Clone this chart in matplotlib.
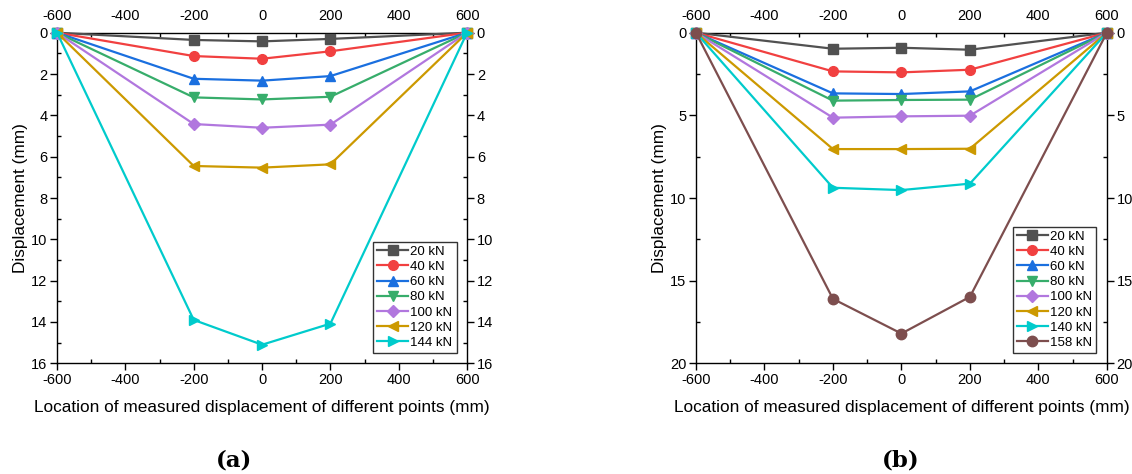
import matplotlib
matplotlib.use("Agg")
import matplotlib.pyplot as plt
from matplotlib.ticker import MultipleLocator

plt.rcParams["font.family"] = ["Liberation Sans", "DejaVu Sans"]
plt.rcParams["axes.unicode_minus"] = False

x = [-600, -200, 0, 200, 600]

# panel (a)
labels_a = ["20 kN", "40 kN", "60 kN", "80 kN", "100 kN", "120 kN", "144 kN"]
disp_a = [
    [0, 0.35, 0.42, 0.30, 0],
    [0, 1.13, 1.26, 0.90, 0],
    [0, 2.23, 2.32, 2.10, 0],
    [0, 3.13, 3.23, 3.10, 0],
    [0, 4.42, 4.60, 4.45, 0],
    [0, 6.45, 6.53, 6.37, 0],
    [0, 13.90, 15.10, 14.08, 0],
]

# panel (b)
labels_b = ["20 kN", "40 kN", "60 kN", "80 kN", "100 kN", "120 kN", "140 kN", "158 kN"]
disp_b = [
    [0, 0.97, 0.91, 1.03, 0],
    [0, 2.34, 2.40, 2.24, 0],
    [0, 3.67, 3.71, 3.55, 0],
    [0, 4.11, 4.07, 4.05, 0],
    [0, 5.14, 5.06, 5.02, 0],
    [0, 7.04, 7.04, 7.02, 0],
    [0, 9.38, 9.52, 9.13, 0],
    [0, 16.10, 18.20, 15.98, 0],
]

colors = ["#515151", "#F14040", "#1A6FDF", "#37AD6B", "#B177DE", "#CC9900", "#00CBCC", "#7D4E4E"]
markers = ["s", "o", "^", "v", "D", "<", ">", "o"]
msizes = [6.5, 7, 7, 7, 6, 7, 7, 7.5]


def draw(ax, data, labels, ymax, ystep):
    for i, d in enumerate(data):
        ax.plot(x, d, color=colors[i], marker=markers[i], ms=msizes[i],
                lw=1.6, label=labels[i], clip_on=False, zorder=3)
    ax.set_xlim(-600, 600)
    ax.set_ylim(ymax, 0)
    ax.xaxis.set_major_locator(MultipleLocator(200))
    ax.xaxis.set_minor_locator(MultipleLocator(100))
    ax.yaxis.set_major_locator(MultipleLocator(ystep))
    ax.yaxis.set_minor_locator(MultipleLocator(ystep / 2))
    ax.tick_params(which="both", top=True, right=True, labeltop=True, labelright=True,
                   labelsize=10.5, width=1, pad=2)
    ax.tick_params(which="major", direction="out", length=5)
    ax.tick_params(which="minor", direction="in", length=3)
    ax.tick_params(axis="x", which="major", top=False, labeltop=True)
    for s in ax.spines.values():
        s.set_linewidth(1)
    ax.set_xlabel("Location of measured displacement of different points (mm)", fontsize=12.4, labelpad=9)
    ax.set_ylabel("Displacement (mm)", fontsize=12.4, labelpad=2)
    leg = ax.legend(loc="lower right", fontsize=9.5, frameon=True, fancybox=False,
                    edgecolor="#333333", framealpha=1, handlelength=2.3,
                    borderpad=0.3, labelspacing=0.22, handletextpad=0.2,
                    borderaxespad=0.8)
    leg.get_frame().set_linewidth(1)


fig = plt.figure(figsize=(11.32, 4.74), dpi=100)
ax1 = fig.add_axes([0.0504, 0.2335, 0.3622, 0.6975])
ax2 = fig.add_axes([0.6148, 0.2335, 0.3630, 0.6975])

draw(ax1, disp_a, labels_a, 16, 2)
draw(ax2, disp_b, labels_b, 20, 5)

fig.text(0.207, 0.015, "(a)", fontsize=16.5, fontweight="bold", family="DejaVu Serif", ha="center")
fig.text(0.796, 0.015, "(b)", fontsize=16.5, fontweight="bold", family="DejaVu Serif", ha="center")

fig.savefig("out.png", dpi=100)
